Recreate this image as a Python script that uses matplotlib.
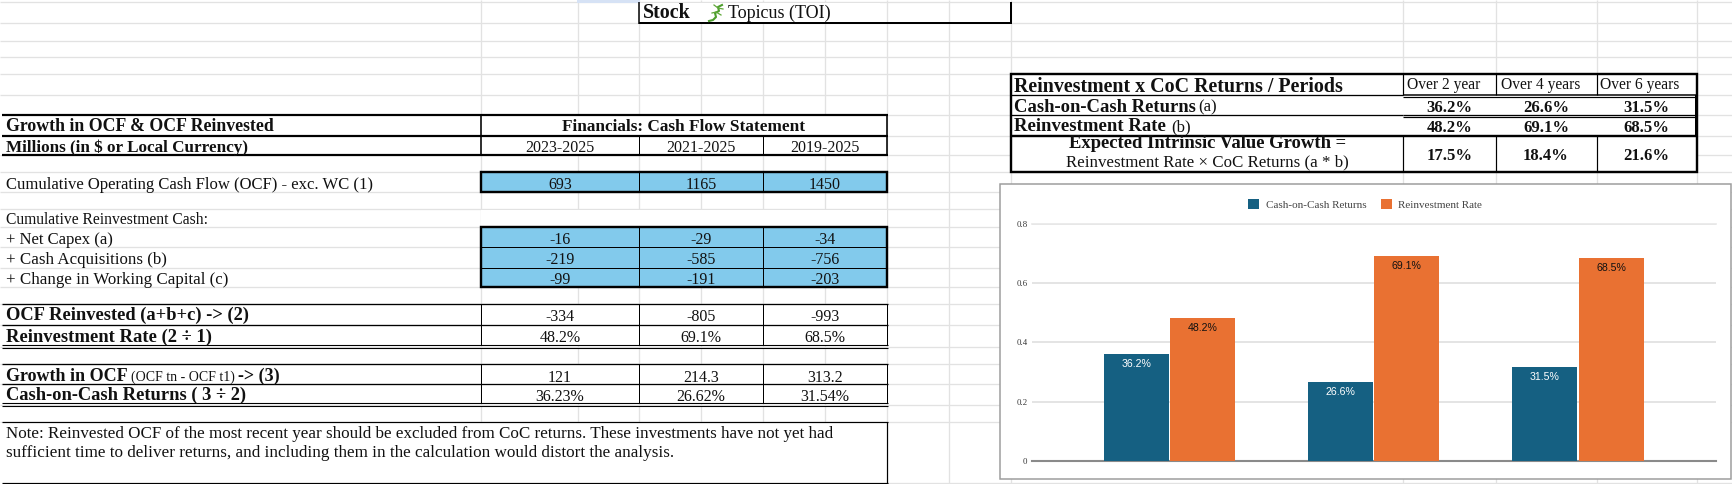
import matplotlib
matplotlib.use("Agg")
import matplotlib.pyplot as plt
from matplotlib.patches import Rectangle
from matplotlib.ticker import FixedLocator

# ---------- data ----------
periods = ["2023-2025", "2021-2025", "2019-2025"]
ocf = ["693", "1165", "1450"]
net_capex = ["-16", "-29", "-34"]
cash_acq = ["-219", "-585", "-756"]
change_wc = ["-99", "-191", "-203"]
ocf_reinvested = ["-334", "-805", "-993"]
reinvest_rate_txt = ["48.2%", "69.1%", "68.5%"]
growth_ocf = ["121", "214.3", "313.2"]
coc_txt = ["36.23%", "26.62%", "31.54%"]
period_heads = ["Over 2 year", "Over 4 years", "Over 6 years"]
coc_short = ["36.2%", "26.6%", "31.5%"]
expected_growth = ["17.5%", "18.4%", "21.6%"]
coc_values = [0.362, 0.266, 0.315]
reinvest_values = [0.482, 0.691, 0.685]
series_names = ["Cash-on-Cash Returns", "Reinvestment Rate"]
y_ticks = [0, 0.2, 0.4, 0.6, 0.8]
y_labels = ["0", "0.2", "0.4", "0.6", "0.8"]

W, H = 1732, 484
SERIF = "Liberation Serif"
SANS = "Liberation Sans"
BLUE = "#82CAEC"
GRID = "#E2E2E2"
C1, C2 = "#156082", "#E97132"

fig = plt.figure(figsize=(W / 100, H / 100), dpi=100, facecolor="white")
sheet = fig.add_axes([0, 0, 1, 1])
sheet.set_xlim(0, W)
sheet.set_ylim(H, 0)
sheet.axis("off")
PX = 0.72  # one pixel in points


def hline(y, x0, x1, px=1.0, c="black", z=3):
    sheet.plot([x0, x1], [y, y], color=c, lw=px * PX, solid_capstyle="butt", zorder=z)


def vline(x, y0, y1, px=1.0, c="black", z=3):
    sheet.plot([x, x], [y0, y1], color=c, lw=px * PX, solid_capstyle="butt", zorder=z)


def rect(x0, y0, x1, y1, fc="white", z=2):
    sheet.add_patch(Rectangle((x0, y0), x1 - x0, y1 - y0, fc=fc, ec="none", zorder=z))


def txt(x, y, s, size=12.2, bold=False, ha="left", c="#111111", family=SERIF):
    sheet.text(x, y + size * 0.40, s, fontsize=size, fontweight="bold" if bold else "normal",
               ha=ha, va="baseline", color=c, family=family, zorder=5)


# ---------- spreadsheet grid ----------
row_y = [2, 23, 41, 57, 74, 95, 114.5, 135.7, 155, 172, 192, 209, 227, 247, 267.5,
         287, 304, 325, 346.7, 364, 384, 404.7, 422, 483]
col_x = [481, 577.5, 639, 701, 763, 825, 887, 949, 1011, 1403, 1496, 1597, 1696.5]
for y in row_y:
    hline(y, 0, W, 1.3, GRID, 1)
for x in col_x:
    vline(x, 0, H, 1.3, GRID, 1)
rect(577, 0, 640, 2.5, fc="#D6E2F5")

# white cells hide the grid
rect(0, 115, 887, 155)
rect(481, 209.5, 887, 226.5)
rect(482, 305, 887, 345)
rect(482, 365, 887, 403)
rect(0, 423, 887, H)
rect(1011, 74, 1697, 172)
rect(640, 3, 880, 22.5)

# ---------- stock cell ----------
hline(23, 639, 1011.5, 2)
vline(639, 2, 24, 1.5)
vline(1011, 2, 24, 2)
txt(643, 12.5, "Stock", 14.4, True)
txt(728, 12.5, "Topicus (TOI)", 13)
sheet.plot([722, 718, 719, 715, 716, 713, 709], [5, 7, 11, 13, 17, 20, 21], color="#4E9F2E", lw=1.5, zorder=5)
sheet.plot([714, 718, 723], [5, 8, 9], color="#5FA838", lw=0.9, zorder=5)
sheet.plot([712, 716, 721], [13, 12, 15], color="#5FA838", lw=0.9, zorder=5)

# ---------- left table ----------
c_x = [560, 701, 825]
inner = [639, 763]
rect(481, 172, 887, 192, BLUE)
rect(481, 227, 887, 287, BLUE)

hline(114.5, 2, 887.5, 2.2)
hline(135.7, 2, 887.5, 2.2)
hline(155, 2, 887.5, 2.2)
vline(481, 114, 156, 1.6)
vline(887, 114, 156, 1.6)
for x in inner:
    vline(x, 135, 155, 1)

for y0, y1 in [(172, 192), (227, 287)]:
    sheet.add_patch(Rectangle((481, y0), 406, y1 - y0, fc="none", ec="black", lw=2.4 * PX, zorder=4))
    for x in inner:
        vline(x, y0, y1, 1)
hline(247, 481, 887, 1)
hline(267.5, 481, 887, 1)

hline(304, 2, 887.5, 1.3)
hline(325, 2, 887.5, 1.3)
hline(345, 2, 887.5, 1.1)
hline(348, 2, 887.5, 1.1)
hline(364, 2, 887.5, 1.3)
hline(384, 2, 887.5, 1.3)
hline(403, 2, 887.5, 1.1)
hline(406, 2, 887.5, 1.1)
for y0, y1 in [(304, 345), (364, 403)]:
    for x in [481, 639, 763, 887]:
        vline(x, y0, y1, 1)

hline(422, 2, 887.5, 1.2)
hline(483, 2, 887.5, 1.2)
vline(887, 422, 484, 1.2)

txt(6, 126, "Growth in OCF & OCF Reinvested", 12.75, True)
txt(6, 146.7, "Millions (in $ or Local Currency)", 12.3, True)
txt(684, 126, "Financials: Cash Flow Statement", 12.4, True, ha="center")
txt(6, 184, "Cumulative Operating Cash Flow (OCF) - exc. WC (1)", 11.95)
txt(6, 219, "Cumulative Reinvestment Cash:", 11.25)
txt(6, 239, "+ Net Capex (a)", 12)
txt(6, 259, "+ Cash Acquisitions (b)", 12.2)
txt(6, 279, "+ Change in Working Capital (c)", 12.2)
txt(6, 315, "OCF Reinvested (a+b+c) -> (2)", 13.3, True)
txt(6, 336.7, "Reinvestment Rate (2 ÷ 1)", 13.45, True)
txt(6, 376, "Growth in OCF", 13, True)
txt(131, 377, "(OCF tn - OCF t1)", 10)
txt(238, 376, "-> (3)", 13, True)
txt(6, 395, "Cash-on-Cash Returns ( 3 ÷ 2)", 13.35, True)
txt(6, 432.7, "Note: Reinvested OCF of the most recent year should be excluded from CoC returns. "
              "These investments have not yet had", 12.23)
txt(6, 451.7, "sufficient time to deliver returns, and including them in the calculation would "
              "distort the analysis.", 12.35)

for row, y in [(periods, 147.5), (ocf, 184), (net_capex, 239.5), (cash_acq, 259.5), (change_wc, 279.5),
               (ocf_reinvested, 316), (reinvest_rate_txt, 337), (growth_ocf, 377), (coc_txt, 396)]:
    for x, s in zip(c_x, row):
        txt(x, y, s, 11.5, ha="center")

# ---------- right table ----------
sheet.add_patch(Rectangle((1011, 74), 685.5, 97.7, fc="none", ec="black", lw=2.4 * PX, zorder=4))
hline(95, 1011, 1403, 1.3)
hline(115, 1011, 1403, 1.3)
hline(136, 1011, 1697, 2.4)
hline(95.3, 1403, 1697, 1.5)
hline(97, 1403, 1697, 1.2)
hline(115, 1403, 1697, 1.3)
hline(117, 1403, 1697, 1.2)
for x in [1403, 1496, 1597]:
    vline(x, 74, 95, 1.2)
    vline(x, 136, 172, 1.2)
vline(1696, 95, 136, 2)

rc = [1449.5, 1546, 1646]
txt(1014.5, 86, "Reinvestment x CoC Returns / Periods", 14.4, True)
for x, s in zip([1407, 1501, 1600], period_heads):
    txt(x, 85, s, 11.2)
txt(1014.5, 106.7, "Cash-on-Cash Returns", 13.4, True)
txt(1198, 107, "(a)", 12)
txt(1014.5, 126, "Reinvestment Rate", 13.5, True)
txt(1171, 126.5, "(b)", 12)
txt(1207.7, 142.7, "Expected Intrinsic Value Growth =", 13.4, True, ha="center")
txt(1207.7, 161.7, "Reinvestment Rate × CoC Returns (a * b)", 12.2, ha="center")
for row, y in [(coc_short, 107), (reinvest_rate_txt, 127), (expected_growth, 155.7)]:
    for x, s in zip(rc, row):
        txt(x, y, s, 12, True, ha="center")

# ---------- embedded chart ----------
sheet.add_patch(Rectangle((999.5, 184.3), 731, 295, fc="white", ec="#9C9C9C", lw=1.5 * PX, zorder=6))

L, R, T, B = 1031.6, 1716, 224, 460.7
ax = fig.add_axes([L / W, 1 - B / H, (R - L) / W, (B - T) / H], zorder=10)
ax.patch.set_alpha(0)
xs = range(len(coc_values))
bw = 0.318
bars1 = ax.bar([i - 0.162 for i in xs], coc_values, bw, color=C1, zorder=3, label=series_names[0])
bars2 = ax.bar([i + 0.162 for i in xs], reinvest_values, bw, color=C2, zorder=3, label=series_names[1])
ax.set_xlim(-0.674, 2.675)
ax.set_ylim(0, 0.8)
ax.yaxis.set_major_locator(FixedLocator(y_ticks))
ax.set_yticklabels(y_labels, family=SERIF, fontsize=6.3, color="#333333")
ax.set_xticks([])
ax.tick_params(axis="y", length=0, pad=3)
ax.grid(axis="y", color="#DDDDDD", lw=1.1, zorder=0)
for s in ["left", "right"]:
    ax.spines[s].set_visible(False)
ax.spines["top"].set_color("#E8E8E8")
ax.spines["top"].set_linewidth(1.2)
ax.spines["bottom"].set_color("#8A8A8A")
ax.spines["bottom"].set_linewidth(1.5)

for rects, vals, col in [(bars1, coc_values, "white"), (bars2, reinvest_values, "#111111")]:
    for r, v in zip(rects, vals):
        ax.annotate(f"{v:.1%}", (r.get_x() + r.get_width() / 2, v), xytext=(0, -7.2),
                    textcoords="offset points", ha="center", va="center",
                    fontsize=7.6, color=col, family=SANS, zorder=5)

ax.legend(loc="center", bbox_to_anchor=(1365 / W, 1 - 204.5 / H), bbox_transform=fig.transFigure,
          ncols=2, frameon=False, prop={"family": SERIF, "size": 8},
          handlelength=1.0, handleheight=1.05, handletextpad=0.55, columnspacing=1.3,
          labelcolor="#444444")

fig.savefig("out.png", dpi=100)
